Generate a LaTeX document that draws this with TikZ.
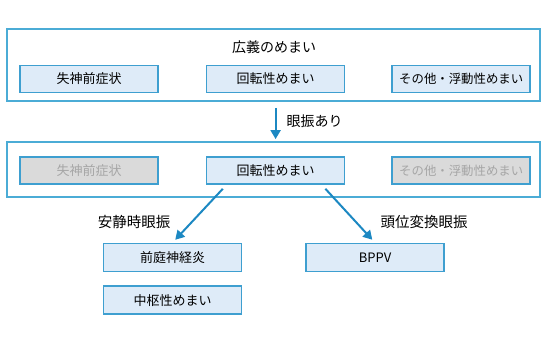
\documentclass[tikz,border=0pt]{standalone}
\usepackage{fontspec}
\usetikzlibrary{positioning,arrows.meta}
\newfontfamily\jpfont{Noto Sans CJK JP}
\definecolor{frameBlue}{HTML}{4BACD6}
\definecolor{boxBlue}{HTML}{DEEBF8}
\definecolor{edgeBlue}{HTML}{3E9FD0}
\definecolor{arrowBlue}{HTML}{1C88C2}
\definecolor{boxGray}{HTML}{DADADA}
\definecolor{textGray}{HTML}{A6A6A6}

\begin{document}
\begin{tikzpicture}[
  x=1pt, y=-1pt,
  font=\jpfont,
  node distance=47pt,
  >={Triangle[length=9pt,width=10pt]},
  frame/.style={rectangle, draw=frameBlue, line width=1.8pt, fill=white,
                minimum width=533pt, inner sep=0pt},
  item/.style={rectangle, draw=edgeBlue, fill=boxBlue, line width=1.6pt,
               minimum width=138pt, minimum height=27pt, inner sep=0pt,
               font=\jpfont\fontsize{13}{15}\selectfont},
  faded/.style={item, fill=boxGray, text=textGray},
  flow/.style={->, draw=arrowBlue, line width=2pt},
  tag/.style={font=\jpfont\fontsize{14.5}{16}\selectfont, inner sep=0pt}
]
\useasboundingbox (0,0) rectangle (547,341);

% ===== Stage 1 — all dizziness =======================================
\node[frame, minimum height=72pt] (wide) at (273.5,65) {};
\node[tag, font=\jpfont\fontsize{14}{16}\selectfont] (wideTitle) at (274,47) {広義のめまい};
\node[item] (presync) at (89,79) {失神前症状};
\node[item, right=of presync] (vert) {回転性めまい};
\node[item, right=46pt of vert, font=\jpfont\fontsize{12.4}{15}\selectfont] (other) {その他・浮動性めまい};

% ===== Stage 2 — with nystagmus ======================================
\node[frame, minimum height=55pt] (nyst) at (273.5,169.5) {};
\node[faded] (presyncB) at (89,170.5) {失神前症状};
\node[item, right=of presyncB] (vertB) {回転性めまい};
\node[faded, right=46pt of vertB, font=\jpfont\fontsize{12.4}{15}\selectfont] (otherB) {その他・浮動性めまい};

% ===== Stage 3 — diagnoses ===========================================
\node[item, minimum height=28pt] (neuritis) at (172.5,257.5) {前庭神経炎};
\node[item, minimum height=28pt, below=13pt of neuritis] (central) {中枢性めまい};
\node[item, minimum height=28pt] (bppv) at (375,257.5) {BPPV};

% ===== Arrows =====
\draw[flow, shorten <=6pt, shorten >=2pt] (wide.south -| vert.south) --
  node[tag, font=\jpfont\fontsize{14}{16}\selectfont, right=10pt] (nystLabel) {眼振あり}
  (nyst.north -| vert.south);
\draw[flow, shorten >=4pt] ([xshift=17pt,yshift=-4pt]vertB.south west) -- (neuritis.north);
\draw[flow, shorten >=4pt] ([xshift=-20pt,yshift=-4pt]vertB.south east) -- (bppv.north);

\node[tag] (restLabel) at (134,222) {安静時眼振};
\node[tag] (posLabel) at (424,222) {頭位変換眼振};

\end{tikzpicture}
\end{document}
